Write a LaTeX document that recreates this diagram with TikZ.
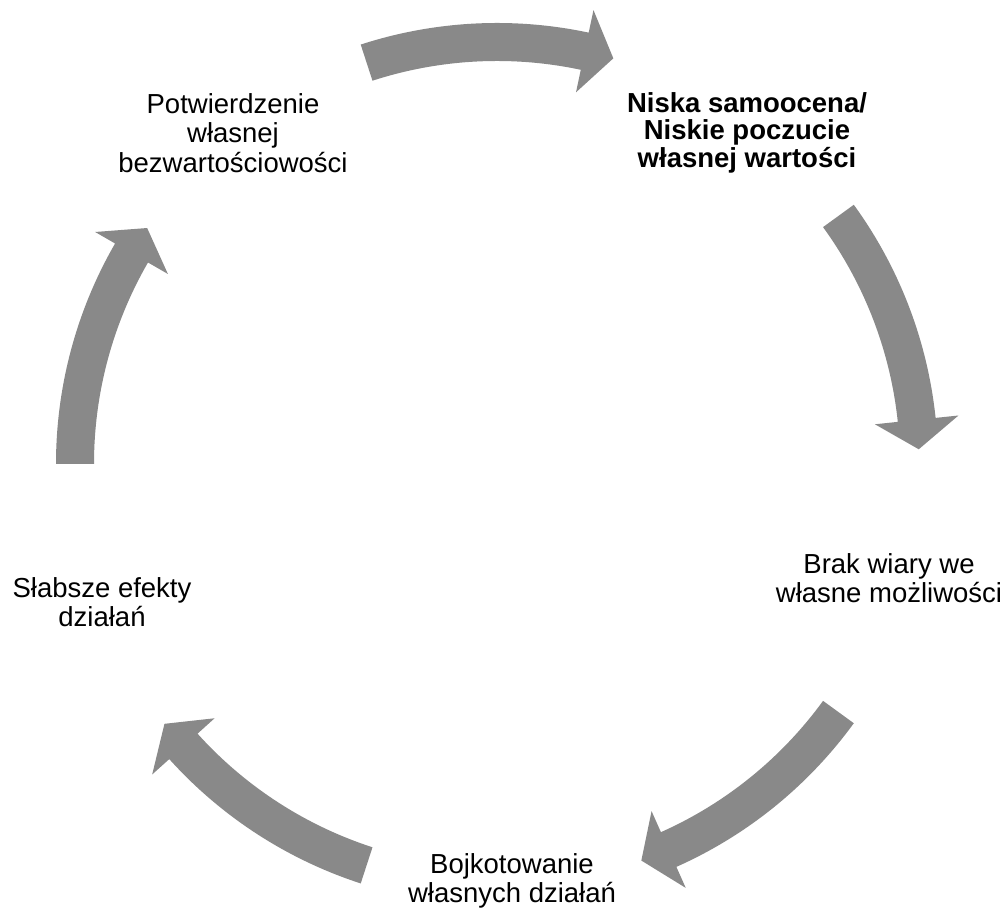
\documentclass[tikz,border=0pt]{standalone}
\usepackage{fontspec}
\setmainfont{Liberation Sans}
\definecolor{arrowgray}{RGB}{137,137,137}
\begin{document}
\begin{tikzpicture}[x=1pt,y=1pt,
  lbl/.style={inner sep=0pt, outer sep=0pt, align=center, anchor=north,
    font=\fontsize{27.5}{29.5}\selectfont},
  lblbold/.style={lbl, font=\fontsize{27.5}{27.5}\selectfont\bfseries},
  arrowfill/.style={fill=arrowgray, draw=none}]
\fill[white] (0,0) rectangle (1008,910);
\useasboundingbox (0,0) rectangle (1008,910);
\coordinate (C) at (497,446);
% text nodes
\node[lblbold] (low)  at (747,817.7) {Niska samoocena/\\Niskie poczucie\\własnej wartości};
\node[lbl]     (faith) at (889,356.7) {Brak wiary we\\własne możliwości};
\node[lbl]     (boy)  at (512,56.7)  {Bojkotowanie\\własnych działań};
\node[lbl]     (weak) at (102,332.7) {Słabsze efekty\\działań};
\node[lbl]     (conf) at (233,816.7) {Potwierdzenie\\własnej\\bezwartościowości};
% curved block arrows
\foreach \t in {108,36,-36,-108,-180}{
  \fill[arrowfill]
    ([shift={(\t:441)}]C) arc[start angle=\t, end angle=\t-30, radius=441]
    -- ([shift={(\t-30:464)}]C)
    -- ([shift={(\t-34:422)}]C)
    -- ([shift={(\t-30:380)}]C)
    -- ([shift={(\t-30:403)}]C) arc[start angle=\t-30, end angle=\t, radius=403]
    -- cycle;
}
\end{tikzpicture}
\end{document}
